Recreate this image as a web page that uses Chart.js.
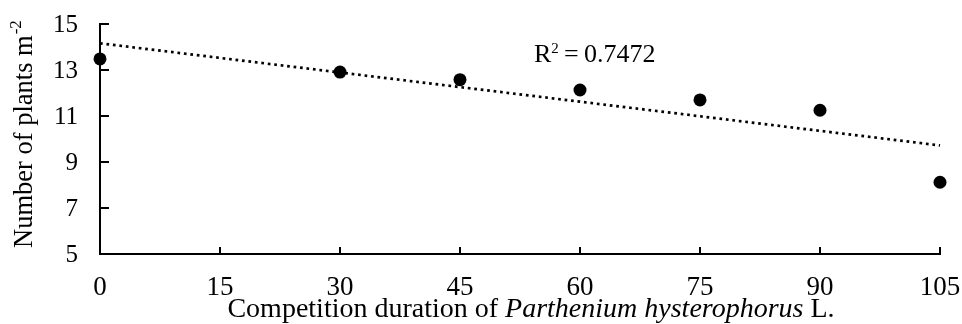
<!DOCTYPE html>
<html lang="en">
<head>
<meta charset="UTF-8">
<title>Number of plants vs competition duration</title>
<script src="https://cdn.jsdelivr.net/npm/chart.js@4.4.1/dist/chart.umd.min.js"></script>
<style>
    html, body { margin: 0; padding: 0; background: #fff; }
</style>
</head>
<body>
<canvas id="plants" width="962" height="324"></canvas>
<script>
    // values
    var durationDays = [0, 30, 45, 60, 75, 90, 105];
    var plantsPerM2 = [13.48, 12.91, 12.58, 12.13, 11.70, 11.25, 8.12];
    // linear trendline (end points)
    var trendDays = [0, 105];
    var trendPlants = [14.16, 9.72];
    var xTickLabels = [0, 15, 30, 45, 60, 75, 90, 105];
    var yTickLabels = [5, 7, 9, 11, 13, 15];
    var rSquared = '0.7472';

    var serif = '"Liberation Serif", "Times New Roman", serif';

    var pointData = durationDays.map(function (d, i) {
        return {x: d, y: plantsPerM2[i]};
    });
    var trendData = trendDays.map(function (d, i) {
        return {x: d, y: trendPlants[i]};
    });

    // inward tick marks, tick labels and the mixed-style titles
    var textPlugin = {
        id: 'textPlugin',
        afterDraw: function (chart) {
            var ctx = chart.ctx;
            var xs = chart.scales.x, ys = chart.scales.y;
            var area = chart.chartArea;
            ctx.save();
            ctx.strokeStyle = '#000';
            ctx.lineWidth = 2;
            ctx.beginPath();
            xTickLabels.forEach(function (v) {
                if (v === xTickLabels[0]) return;
                var px = Math.round(xs.getPixelForValue(v));
                ctx.moveTo(px, area.bottom);
                ctx.lineTo(px, area.bottom - 7);
            });
            yTickLabels.forEach(function (v) {
                if (v === yTickLabels[0]) return;
                var py = Math.round(ys.getPixelForValue(v));
                ctx.moveTo(area.left, py);
                ctx.lineTo(area.left + 9, py);
            });
            ctx.stroke();

            ctx.fillStyle = '#000';
            ctx.textBaseline = 'alphabetic';

            // x tick labels
            ctx.font = '27px ' + serif;
            ctx.textAlign = 'center';
            xTickLabels.forEach(function (v) {
                ctx.fillText(String(v), xs.getPixelForValue(v), area.bottom + 41);
            });

            // y tick labels
            ctx.font = '25px ' + serif;
            ctx.textAlign = 'right';
            ctx.textBaseline = 'middle';
            yTickLabels.forEach(function (v) {
                ctx.fillText(String(v), area.left - 22, ys.getPixelForValue(v) + 1);
            });
            ctx.textBaseline = 'alphabetic';
            ctx.textAlign = 'left';

            // x title: normal + italic + normal
            var parts = [
                ['Competition duration of ', ''],
                ['Parthenium hysterophorus', 'italic '],
                [' L.', '']
            ];
            var total = 0;
            parts.forEach(function (p) {
                ctx.font = p[1] + '28px ' + serif;
                p.push(ctx.measureText(p[0]).width);
                total += p[2];
            });
            var tx = 531 - total / 2;
            parts.forEach(function (p) {
                ctx.font = p[1] + '28px ' + serif;
                ctx.fillText(p[0], tx, 317);
                tx += p[2];
            });

            // y title with superscript
            ctx.save();
            ctx.translate(32, 248);
            ctx.rotate(-Math.PI / 2);
            ctx.font = '26.5px ' + serif;
            var main = 'Number of plants m';
            ctx.fillText(main, 0, 0);
            var w = ctx.measureText(main).width;
            ctx.font = '17px ' + serif;
            ctx.fillText('-2', w + 1, -11);
            ctx.restore();

            // R squared label
            var rx = area.left + 434, ry = 62;
            ctx.font = '26px ' + serif;
            ctx.fillText('R', rx, ry);
            rx += ctx.measureText('R').width;
            ctx.font = '15px ' + serif;
            ctx.fillText('2', rx, ry - 9);
            rx += ctx.measureText('2').width;
            ctx.font = '26px ' + serif;
            ctx.fillText('\u2009=\u2009' + rSquared, rx, ry);

            ctx.restore();
        }
    };

    var ctx = document.getElementById('plants').getContext('2d');
    var plantsChart = new Chart(ctx, {
        type: 'scatter',
        data: {
            datasets: [{
                label: 'Plants',
                data: pointData,
                backgroundColor: '#000',
                borderColor: '#000',
                pointRadius: 6.5,
                borderWidth: 0,
                clip: false
            }, {
                label: 'Linear trend',
                data: trendData,
                showLine: true,
                borderColor: '#000',
                borderWidth: 2.7,
                borderDash: [2.7, 3.8],
                pointRadius: 0,
                clip: false
            }]
        },
        plugins: [textPlugin],
        options: {
            responsive: false,
            devicePixelRatio: 1,
            animation: false,
            layout: {padding: {left: 0, top: 24, right: 22, bottom: 0}},
            plugins: {legend: {display: false}, tooltip: {enabled: false}},
            scales: {
                x: {
                    type: 'linear',
                    min: 0,
                    max: 105,
                    afterBuildTicks: function (scale) {
                        scale.ticks = xTickLabels.map(function (v) { return {value: v}; });
                    },
                    afterFit: function (scale) { scale.height = 70; },
                    ticks: {display: false},
                    grid: {display: false},
                    border: {display: true, color: '#000', width: 2}
                },
                y: {
                    min: 5,
                    max: 15,
                    afterBuildTicks: function (scale) {
                        scale.ticks = yTickLabels.map(function (v) { return {value: v}; });
                    },
                    afterFit: function (scale) { scale.width = 100; },
                    ticks: {display: false},
                    grid: {display: false},
                    border: {display: true, color: '#000', width: 2}
                }
            }
        }
    });
</script>
</body>
</html>
